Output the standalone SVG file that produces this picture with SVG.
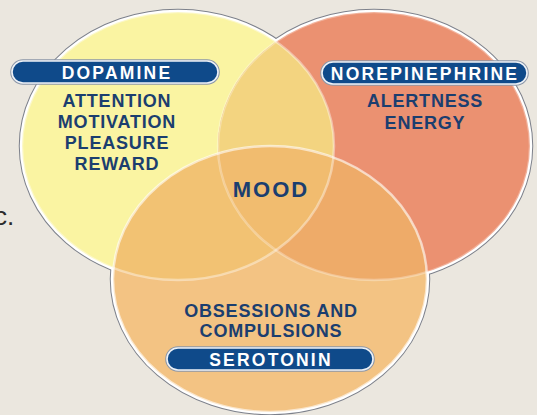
<svg xmlns="http://www.w3.org/2000/svg" width="537" height="415" viewBox="0 0 537 415">
<style>
.edge-dark{fill:none;stroke:#7d818b;stroke-width:6.5}
.edge-white{fill:none;stroke:#ffffff;stroke-width:4.5}
.inner{fill:none;stroke:#ffffff;stroke-width:2.5}
.pill-out{fill:none;stroke:#8c97a8;stroke-width:3.6}
.pill{fill:#0f4a8a;stroke:#eef2f7;stroke-width:1.6}
.pt{font-family:"Liberation Sans",Arial,sans-serif;font-weight:bold;font-size:17.5px;fill:#ffffff;text-anchor:middle;letter-spacing:2.2px}
.bt{font-family:"Liberation Sans",Arial,sans-serif;font-weight:bold;font-size:18px;fill:#1b3e6f;text-anchor:middle;letter-spacing:0.8px}
</style>
<defs>
<clipPath id="cY"><ellipse cx="178" cy="146" rx="156" ry="134"/></clipPath>
<clipPath id="cR"><ellipse cx="374" cy="146" rx="156" ry="134"/></clipPath>
</defs>
<rect x="0" y="0" width="537" height="415" fill="#ebe7df"/>
<text x="-6" y="225" font-family="Liberation Sans, Arial, sans-serif" font-size="26" fill="#2b2b2b">c.</text>
<g id="outline">
<ellipse class="edge-dark" cx="178" cy="146" rx="156" ry="134"/>
<ellipse class="edge-dark" cx="374" cy="146" rx="156" ry="134"/>
<ellipse class="edge-dark" cx="270" cy="279" rx="157" ry="133"/>
<ellipse class="edge-white" cx="178" cy="146" rx="156" ry="134"/>
<ellipse class="edge-white" cx="374" cy="146" rx="156" ry="134"/>
<ellipse class="edge-white" cx="270" cy="279" rx="157" ry="133"/>
</g>
<g id="dopamine-circle">
<ellipse cx="178" cy="146" rx="156" ry="134" fill="#faf4a2"/>
</g>
<g id="norepinephrine-circle">
<ellipse cx="374" cy="146" rx="156" ry="134" fill="#eb9171"/>
<ellipse cx="374" cy="146" rx="156" ry="134" fill="#f3d480" clip-path="url(#cY)"/>
</g>
<g id="serotonin-circle">
<ellipse cx="270" cy="279" rx="157" ry="133" fill="#f3c383"/>
<ellipse cx="270" cy="279" rx="157" ry="133" fill="#f2c273" clip-path="url(#cY)"/>
<ellipse cx="270" cy="279" rx="157" ry="133" fill="#eeab69" clip-path="url(#cR)"/>
<g clip-path="url(#cY)"><ellipse cx="270" cy="279" rx="157" ry="133" fill="#f1bc6f" clip-path="url(#cR)"/></g>
</g>
<g id="inner-lines">
<ellipse class="inner" cx="178" cy="146" rx="156" ry="134" stroke-opacity="0.4"/>
<ellipse class="inner" cx="374" cy="146" rx="156" ry="134" stroke-opacity="0.3"/>
<ellipse class="inner" cx="270" cy="279" rx="157" ry="133" stroke-opacity="0.6"/>
</g>
<g id="dopamine">
<rect class="pill-out" x="12" y="61" width="206" height="22" rx="11"/>
<rect class="pill" x="12" y="61" width="206" height="22" rx="11"/>
<text class="pt" x="117" y="79">DOPAMINE</text>
<text class="bt" x="117" y="107">ATTENTION</text>
<text class="bt" x="117" y="128">MOTIVATION</text>
<text class="bt" x="117" y="149">PLEASURE</text>
<text class="bt" x="117" y="170">REWARD</text>
</g>
<g id="norepinephrine">
<rect class="pill-out" x="322" y="62" width="205" height="22" rx="11"/>
<rect class="pill" x="322" y="62" width="205" height="22" rx="11"/>
<text class="pt" x="425" y="80">NOREPINEPHRINE</text>
<text class="bt" x="425" y="107">ALERTNESS</text>
<text class="bt" x="425" y="129">ENERGY</text>
</g>
<g id="mood">
<text class="bt" x="271" y="197" style="font-size:22px;letter-spacing:2px">MOOD</text>
</g>
<g id="serotonin">
<text class="bt" x="271" y="317">OBSESSIONS AND</text>
<text class="bt" x="271" y="337">COMPULSIONS</text>
<rect class="pill-out" x="167" y="348" width="206" height="22" rx="11"/>
<rect class="pill" x="167" y="348" width="206" height="22" rx="11"/>
<text class="pt" x="271" y="366">SEROTONIN</text>
</g>
</svg>
